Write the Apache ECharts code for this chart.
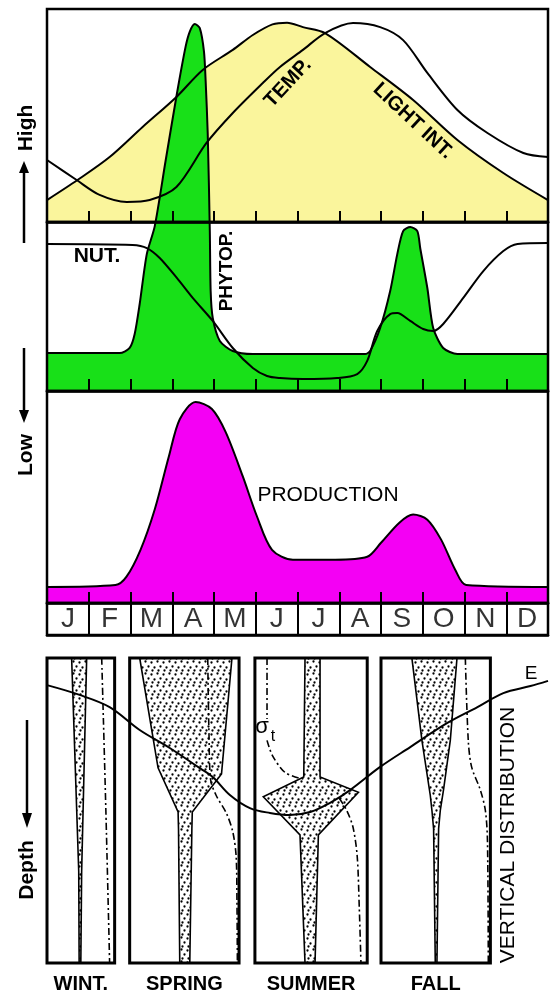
<!DOCTYPE html>
<html><head><meta charset="utf-8">
<script src="https://cdn.jsdelivr.net/npm/echarts@6/dist/echarts.min.js"></script>
<style>html,body{margin:0;padding:0;background:#fff}#c{width:553px;height:997px}</style>
</head><body><div id="c"></div>
<script>
// ---------- DATA (month units 0..12, panel-relative values) ----------
const months = ['J','F','M','A','M','J','J','A','S','O','N','D'];
const lightInt = [[0,10.3],[0.73,19.7],[1.5,30.5],[2.29,44.6],[3.1,58.7],[3.73,71.4],[4.45,80.8],[4.93,87.8],[5.4,92.8],[5.75,93.6],[6.13,91.5],[6.66,88.7],[7.74,72.8],[8.77,57.3],[9.83,38.5],[10.93,23],[12,10.3]];
const temperature = [[0,29.1],[0.71,19.7],[1.26,12.7],[1.91,9.4],[2.46,10.3],[3.1,16.4],[3.82,37.1],[4.45,51.2],[5.17,65.3],[5.58,72.8],[6.13,80.8],[6.66,88.7],[7.33,93.4],[7.98,91.5],[8.53,85.4],[9.11,70],[9.83,52.6],[10.55,41.8],[11.41,32.4],[12,30.5]];
const phytoplankton = [[0,22.6],[1.74,22.6],[1.98,25.6],[2.1,33.9],[2.22,51.8],[2.39,81.5],[2.58,98],[2.84,136.9],[3.11,176.8],[3.32,205],[3.42,214],[3.54,218.5],[3.66,216],[3.76,202],[3.8,184.5],[3.85,153],[3.9,95],[3.92,59.5],[3.97,43.5],[4.14,29.8],[4.45,23.8],[4.93,22],[7.62,22],[7.74,23.8],[7.98,37.5],[8.22,59.5],[8.39,81.5],[8.53,95.2],[8.7,97.6],[8.87,95.2],[8.94,85],[9.11,61.3],[9.25,37.5],[9.49,25.6],[9.83,22],[12,22]];
const nutrients = [[0,87.5],[2.05,86.9],[2.39,85.1],[2.7,79.2],[3.11,67.3],[3.49,55.4],[3.97,41.7],[4.45,25.6],[4.93,13.7],[5.27,8.9],[5.58,7.7],[6.13,7.1],[6.95,7.7],[7.43,10.1],[7.67,17.9],[7.91,35.7],[8.22,45.8],[8.39,46.4],[8.7,41.7],[9.01,36.9],[9.25,35.7],[9.49,39.9],[9.97,55.4],[10.45,71.4],[10.93,83.3],[11.27,87.5],[12,88.1]];
const production = [[0,7.6],[1.64,8.5],[1.9,12.3],[2.24,25.1],[2.58,44.1],[2.92,69.2],[3.18,86.7],[3.56,94.8],[3.95,91.5],[4.28,80.6],[4.69,59.7],[5.03,40.8],[5.39,25.1],[5.89,20.4],[6.9,20.4],[7.67,21.8],[8.0,28.4],[8.44,37.9],[8.77,41.7],[9.11,39.3],[9.44,29.9],[9.78,15.6],[10.04,8.5],[12,7.6]];

// vertical distribution panel: x in month units, y = depth 0..100
const seasonNames = ['WINT.','SPRING','SUMMER','FALL'];
const seasonBoxes = [[0,1.62],[1.98,4.6],[4.98,7.67],[8.0,10.62]];
const winterPhyto = [[0.59,0],[0.95,0],[0.83,70],[0.81,100],[0.77,100],[0.76,70]];
const springPhyto = [[2.22,0],[4.43,0],[4.18,38],[3.48,50.5],[3.47,56],[3.42,100],[3.18,100],[3.15,56],[3.14,50.5],[2.66,36]];
const summerPhyto = [[6.18,0],[6.54,0],[6.54,39],[7.46,44],[6.5,58],[6.42,100],[6.18,100],[6.06,58],[5.18,45.5],[6.15,39]];
const fallPhyto = [[8.74,0],[9.82,0],[9.66,27],[9.5,43],[9.42,50],[9.38,56],[9.34,100],[9.3,100],[9.26,56],[9.22,50],[9.18,45],[8.98,27]];
const sigmaWinter = [[1.31,0],[1.41,50],[1.5,100]];
const sigmaSpring = [[3.85,0],[3.88,25],[3.92,40],[4.05,45],[4.3,51],[4.45,57],[4.53,65],[4.55,80],[4.56,100]];
const sigmaSummerA = [[5.27,0],[5.27,20]];
const sigmaSummerB = [[5.27,27],[5.4,32],[5.7,37.5],[6.06,39.5]];
const sigmaSummerC = [[7.0,46],[7.18,50],[7.33,55.5],[7.43,65],[7.48,82],[7.52,100]];
const sigmaFall = [[10.02,0],[10.09,27],[10.17,35.7],[10.38,43.3],[10.5,50],[10.55,60],[10.57,100]];
const extinction = [[0,8.9],[0.78,12.1],[1.5,16.1],[2.22,23.6],[2.94,29.5],[3.66,36.1],[3.97,39],[4.38,44.9],[4.86,49.2],[5.34,50.8],[5.82,51.5],[6.3,50.5],[6.78,47.5],[7.26,43.3],[7.98,35.7],[8.7,29.2],[9.59,21.3],[10.31,16.1],[10.93,11.5],[11.58,9.2],[12,7.5]];

// ---------- STYLE ----------
const YELLOW = '#FAF59C', GREEN = '#18E018', MAGENTA = '#F400F4';
const FONT = '"Liberation Sans", Arial, sans-serif';
function dotTile(){
  const c = document.createElement('canvas'); c.width = 12; c.height = 12;
  const g = c.getContext('2d'); g.fillStyle = '#fff'; g.fillRect(0,0,12,12);
  g.fillStyle = '#000';
  [[1,1],[7,2],[4,6],[10,7],[2,10],[8,10]].forEach(([x,y])=>{g.beginPath();g.arc(x+0.5,y+0.5,1.15,0,Math.PI*2);g.fill();});
  return c;
}
const dots = dotTile();

const chart = echarts.init(document.getElementById('c'), null, {renderer:'canvas'});
const L = 47, W = 501;
const frame = {show:true, borderColor:'#000', borderWidth:2.5, backgroundColor:'transparent', z:4};
const hiddenY = (gi,min,max,inv)=>({gridIndex:gi, type:'value', min, max, inverse:!!inv, show:false});
const tickX = (gi,len)=>({gridIndex:gi, type:'value', min:0, max:12, interval:1, z:6,
  axisLine:{show:true, onZero:false, lineStyle:{color:'#000', width:2.5}},
  axisTick:{show:true, inside:true, length:len, lineStyle:{color:'#000', width:2}},
  axisLabel:{show:false}, splitLine:{show:false}});
const lineS = (xi, data, extra)=>Object.assign({type:'line', xAxisIndex:xi, yAxisIndex:xi, data, smooth:0.3,
  showSymbol:false, symbol:'none', silent:true, lineStyle:{color:'#000', width:2}}, extra||{});
const dashS = (data)=>({type:'line', xAxisIndex:5, yAxisIndex:5, data, smooth:0.3, showSymbol:false, symbol:'none', silent:true, z:3,
  lineStyle:{color:'#000', width:1.6, type:[7,3,2,3]}});
const txt = (text, x, y, size, rot, weight)=>({type:'text', x, y, rotation:rot||0, z:20, silent:true,
  style:{text, font:(weight||'normal')+' '+size+'px '+FONT, fill:'#000', align:'center', verticalAlign:'middle', textAlign:'center', textVerticalAlign:'middle'}});

const option = {
  animation:false,
  backgroundColor:'#fff',
  grid:[
    Object.assign({left:L, width:W, top:9, height:213}, frame),
    {left:L, width:W, top:9, height:382, show:false},
    Object.assign({left:L, width:W, top:222, height:169}, frame),
    Object.assign({left:L, width:W, top:391, height:212}, frame),
    Object.assign({left:L, width:W, top:603, height:32}, frame),
    {left:L, width:W, top:658, height:305, show:false}
  ],
  xAxis:[
    tickX(0,11),
    {gridIndex:1, type:'value', min:0, max:12, show:false},
    tickX(2,12),
    tickX(3,11),
    {gridIndex:4, type:'category', data:months, boundaryGap:true, z:6,
      axisLine:{show:true, lineStyle:{color:'#000', width:2.5}}, axisTick:{show:false}, axisLabel:{show:false},
      splitLine:{show:true, interval:0, lineStyle:{color:'#000', width:2}}},
    {gridIndex:5, type:'value', min:0, max:12, show:false}
  ],
  yAxis:[
    hiddenY(0,0,100), hiddenY(1,0,227.4), hiddenY(2,0,100), hiddenY(3,0,100), hiddenY(4,0,1), hiddenY(5,0,100,true)
  ],
  series:[
    lineS(0, lightInt, {z:1, lineStyle:{width:0, color:'#000'}, areaStyle:{color:YELLOW, opacity:1}}),
    lineS(1, phytoplankton, {z:2, smooth:0.25, areaStyle:{color:GREEN, opacity:1}}),
    lineS(0, lightInt, {z:3}),
    lineS(0, temperature, {z:3}),
    lineS(1, nutrients, {z:3}),
    lineS(3, production, {z:2, areaStyle:{color:MAGENTA, opacity:1}}),
    {type:'scatter', xAxisIndex:4, yAxisIndex:4, silent:true, symbolSize:1, itemStyle:{color:'rgba(0,0,0,0)'},
      data: months.map((m,i)=>[i,0.5]),
      label:{show:true, position:'inside', formatter:p=>months[p.dataIndex], fontSize:28, fontFamily:FONT, color:'#000'}},
    {type:'custom', xAxisIndex:5, yAxisIndex:5, silent:true, z:2,
      data:[winterPhyto, springPhyto, summerPhyto, fallPhyto].map((p,i)=>[i]),
      renderItem:(params, api)=>{
        const prof = [winterPhyto, springPhyto, summerPhyto, fallPhyto][params.dataIndex];
        return {type:'polygon', shape:{points:prof.map(p=>api.coord(p))},
          style:{fill:{image:dots, repeat:'repeat'}, stroke:'#000', lineWidth:1.6}};
      }},
    dashS(sigmaWinter), dashS(sigmaSpring), dashS(sigmaSummerA), dashS(sigmaSummerB), dashS(sigmaSummerC), dashS(sigmaFall),
    {type:'custom', xAxisIndex:5, yAxisIndex:5, silent:true, z:4,
      data: seasonBoxes.map((b,i)=>[i]),
      renderItem:(params, api)=>{
        const b = seasonBoxes[params.dataIndex];
        const p0 = api.coord([b[0],0]), p1 = api.coord([b[1],100]);
        return {type:'group', children:[
          {type:'rect', shape:{x:p0[0], y:p0[1], width:p1[0]-p0[0], height:p1[1]-p0[1]}, style:{fill:'none', stroke:'#000', lineWidth:3}},
          {type:'text', x:(p0[0]+p1[0])/2, y:p1[1]+21, style:{text:seasonNames[params.dataIndex], font:'bold 20px '+FONT, fill:'#000', align:'center', verticalAlign:'middle'}}
        ]};
      }},
    lineS(5, extinction, {z:5, smooth:0.35})
  ],
  graphic:[
    txt('TEMP.', 288, 83, 20, 0.82, 'bold'),
    txt('LIGHT INT.', 413, 121, 20, -0.75, 'bold'),
    txt('NUT.', 97, 256, 21, 0, 'bold'),
    txt('PHYTOP.', 227, 271, 19, Math.PI/2, 'bold'),
    txt('PRODUCTION', 328, 495, 21, 0),
    txt('High', 26, 128, 21, Math.PI/2, 'bold'),
    txt('Low', 26, 455, 21, Math.PI/2, 'bold'),
    txt('Depth', 27, 870, 21, Math.PI/2, 'bold'),
    txt('VERTICAL DISTRIBUTION', 508, 835, 21, Math.PI/2),
    txt('E', 531, 674, 19, 0),
    txt('σ', 262, 727, 22, 0),
    txt('t', 273, 737, 16, 0),
    {type:'line', shape:{x1:24, y1:243, x2:24, y2:170}, style:{stroke:'#000', lineWidth:2.5}},
    {type:'polygon', shape:{points:[[19,173],[29,173],[24,161]]}, style:{fill:'#000'}},
    {type:'line', shape:{x1:24, y1:348, x2:24, y2:412}, style:{stroke:'#000', lineWidth:2.5}},
    {type:'polygon', shape:{points:[[19,410],[29,410],[24,423]]}, style:{fill:'#000'}},
    {type:'line', shape:{x1:27, y1:720, x2:27, y2:815}, style:{stroke:'#000', lineWidth:2.5}},
    {type:'polygon', shape:{points:[[22,813],[32,813],[27,828]]}, style:{fill:'#000'}}
  ]
};
chart.setOption(option);
</script></body></html>
